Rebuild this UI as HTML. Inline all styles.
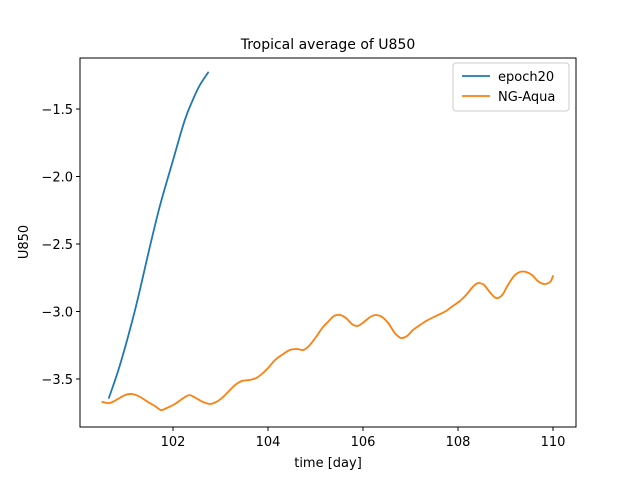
<!DOCTYPE html>
<html><head><meta charset="utf-8"><style>
body{margin:0;background:#fff}
svg{font-family:"DejaVu Sans","Liberation Sans",sans-serif}
</style></head><body>
<svg id="chart" width="640" height="480">
<rect width="640" height="480" fill="#fff"/>
<text x="328" y="49" font-size="14" text-anchor="middle">Tropical average of U850</text>
<g id="axes"></g>
<g id="series"></g>
<rect x="80" y="58" width="496" height="369" fill="none" stroke="#000" stroke-width="1"/>
<text x="328" y="467" font-size="13" text-anchor="middle">time [day]</text>
<text x="28" y="242" font-size="13" text-anchor="middle" transform="rotate(-90 28 242)">U850</text>
<g>
<rect x="453" y="63" width="116" height="48" rx="3" fill="#fff" stroke="#ccc"/>
<line x1="462" y1="76" x2="490" y2="76" stroke="#1f77b4" stroke-width="1.8"/>
<text x="498" y="81" font-size="13">epoch20</text>
<line x1="462" y1="96" x2="490" y2="96" stroke="#ff7f0e" stroke-width="1.8"/>
<text x="498" y="101" font-size="13">NG-Aqua</text>
</g>
</svg>
<script>
const xTicks=[102,104,106,108,110];
const yTicks=[-1.5,-2.0,-2.5,-3.0,-3.5];
const yTickLabels=["−1.5","−2.0","−2.5","−3.0","−3.5"];
const epochT=[100.65,100.88,101.2,101.52,101.73,102.0,102.25,102.42,102.57,102.74];
const epochV=[-3.64,-3.40,-2.99,-2.51,-2.21,-1.88,-1.58,-1.43,-1.32,-1.23];
const aquaT=[100.51,100.67,100.84,100.99,101.14,101.31,101.47,101.62,101.75,101.87,102.04,102.19,102.34,102.48,102.63,102.78,102.91,103.03,103.16,103.31,103.45,103.62,103.75,103.87,104.0,104.15,104.32,104.46,104.61,104.74,104.86,105.01,105.14,105.26,105.39,105.52,105.64,105.77,105.89,106.02,106.15,106.27,106.4,106.53,106.67,106.8,106.93,107.05,107.2,107.33,107.45,107.62,107.75,107.89,108.04,108.17,108.29,108.38,108.44,108.55,108.67,108.8,108.93,109.05,109.18,109.31,109.43,109.56,109.68,109.81,109.94,110.0];
const aquaV=[-3.670,-3.678,-3.648,-3.619,-3.611,-3.633,-3.670,-3.70,-3.73,-3.715,-3.685,-3.648,-3.619,-3.641,-3.670,-3.685,-3.670,-3.641,-3.596,-3.544,-3.515,-3.507,-3.493,-3.463,-3.419,-3.359,-3.315,-3.285,-3.278,-3.285,-3.256,-3.189,-3.122,-3.078,-3.033,-3.026,-3.048,-3.093,-3.107,-3.078,-3.041,-3.026,-3.041,-3.085,-3.159,-3.196,-3.181,-3.137,-3.1,-3.07,-3.048,-3.019,-2.996,-2.959,-2.922,-2.878,-2.826,-2.796,-2.789,-2.804,-2.856,-2.9,-2.878,-2.804,-2.737,-2.707,-2.707,-2.73,-2.774,-2.796,-2.781,-2.737];
const NS="http://www.w3.org/2000/svg";
const xs=t=>173+(t-102)*47.5;
const ys=v=>109+(-1.5-v)*135;
const axes=document.getElementById('axes');
function mk(tag,attrs,parent){const e=document.createElementNS(NS,tag);for(const k in attrs)e.setAttribute(k,attrs[k]);parent.appendChild(e);return e;}
xTicks.forEach(t=>{
 const l=mk('line',{x1:xs(t),x2:xs(t),y1:427,y2:431,stroke:'#000'},axes);
 
 
 const tx=mk('text',{x:xs(t),y:446,'font-size':13,'text-anchor':'middle'},axes);
 tx.textContent=String(t);
 
 
});
yTicks.forEach((v,i)=>{
 const l=mk('line',{x1:76,x2:80,y1:ys(v),y2:ys(v),stroke:'#000'},axes);
 
 
 const tx=mk('text',{x:73,y:ys(v)+5,'font-size':13,'text-anchor':'end'},axes);
 tx.textContent=yTickLabels[i];
 
 
});
const ser=document.getElementById('series');
function line(T,V,color,name){
 const P=T.map((t,i)=>[xs(t),ys(V[i])]);
 let d='M'+P[0][0].toFixed(1)+','+P[0][1].toFixed(1);
 for(let i=0;i<P.length-1;i++){
  const p0=P[i-1]||P[i],p1=P[i],p2=P[i+1],p3=P[i+2]||P[i+1];
  const c1=[p1[0]+(p2[0]-p0[0])/6,p1[1]+(p2[1]-p0[1])/6];
  const c2=[p2[0]-(p3[0]-p1[0])/6,p2[1]-(p3[1]-p1[1])/6];
  d+=' C'+c1.map(n=>n.toFixed(1)).join(',')+' '+c2.map(n=>n.toFixed(1)).join(',')+' '+p2.map(n=>n.toFixed(1)).join(',');
 }
 const p=mk('path',{d:d,fill:'none',stroke:color,'stroke-width':1.8,'stroke-linejoin':'round','stroke-linecap':'round'},ser);
 
 
}
line(epochT,epochV,'#1f77b4','epoch20-line');
line(aquaT,aquaV,'#ff7f0e','ng-aqua-line');
</script>
</body></html>
